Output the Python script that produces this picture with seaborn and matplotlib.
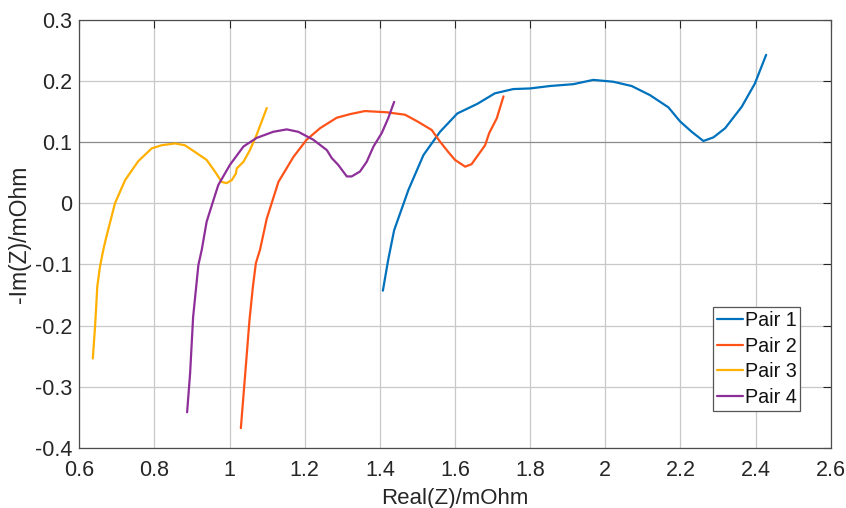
import numpy as np
import pandas as pd
import matplotlib
matplotlib.use("Agg")
import matplotlib.pyplot as plt
import seaborn as sns

# ---- data ----
p1_x = [1.408, 1.422, 1.438, 1.476, 1.516, 1.560, 1.606, 1.660, 1.706, 1.755, 1.800, 1.853,
        1.915, 1.968, 2.021, 2.070, 2.119, 2.168, 2.199, 2.230, 2.261, 2.288, 2.319, 2.363,
        2.398, 2.428]
p1_y = [-0.143, -0.093, -0.044, 0.022, 0.079, 0.117, 0.147, 0.163, 0.180, 0.187, 0.188, 0.192,
        0.195, 0.202, 0.199, 0.192, 0.177, 0.157, 0.134, 0.117, 0.102, 0.108, 0.123, 0.158,
        0.196, 0.243]

p2_x = [1.030, 1.041, 1.053, 1.062, 1.070, 1.081, 1.099, 1.130, 1.170, 1.205, 1.241, 1.285,
        1.321, 1.360, 1.418, 1.467, 1.500, 1.538, 1.560, 1.582, 1.600, 1.627, 1.644, 1.680,
        1.691, 1.711, 1.729]
p2_y = [-0.368, -0.284, -0.191, -0.137, -0.098, -0.076, -0.025, 0.035, 0.076, 0.104, 0.123, 0.140,
        0.146, 0.151, 0.149, 0.145, 0.134, 0.120, 0.101, 0.084, 0.071, 0.060, 0.064, 0.095,
        0.115, 0.139, 0.175]

p3_x = [0.636, 0.642, 0.648, 0.655, 0.664, 0.670, 0.695, 0.722, 0.757, 0.793, 0.819, 0.855,
        0.881, 0.908, 0.939, 0.961, 0.979, 0.992, 1.006, 1.017, 1.019, 1.037, 1.054, 1.072,
        1.099]
p3_y = [-0.254, -0.202, -0.136, -0.104, -0.076, -0.060, 0.000, 0.038, 0.069, 0.090, 0.095, 0.098,
        0.095, 0.084, 0.071, 0.052, 0.035, 0.033, 0.038, 0.049, 0.057, 0.068, 0.087, 0.112,
        0.156]

p4_x = [0.887, 0.895, 0.903, 0.917, 0.926, 0.939, 0.957, 0.970, 1.001, 1.037, 1.072, 1.116,
        1.152, 1.183, 1.223, 1.259, 1.272, 1.289, 1.312, 1.325, 1.347, 1.365, 1.383, 1.405,
        1.422, 1.438]
p4_y = [-0.342, -0.278, -0.186, -0.101, -0.076, -0.030, 0.005, 0.030, 0.063, 0.093, 0.107, 0.117,
        0.121, 0.117, 0.104, 0.087, 0.074, 0.063, 0.044, 0.044, 0.052, 0.068, 0.093, 0.115,
        0.139, 0.166]

series_names = ["Pair 1", "Pair 2", "Pair 3", "Pair 4"]
colors = ["#0072BD", "#FF5219", "#FFB000", "#8E2F99"]

xticks = [0.6, 0.8, 1.0, 1.2, 1.4, 1.6, 1.8, 2.0, 2.2, 2.4, 2.6]
xtick_labels = ["0.6", "0.8", "1", "1.2", "1.4", "1.6", "1.8", "2", "2.2", "2.4", "2.6"]
yticks = [-0.4, -0.3, -0.2, -0.1, 0.0, 0.1, 0.2, 0.3]
ytick_labels = ["-0.4", "-0.3", "-0.2", "-0.1", "0", "0.1", "0.2", "0.3"]

frames = []
for name, xs, ys in zip(series_names, [p1_x, p2_x, p3_x, p4_x], [p1_y, p2_y, p3_y, p4_y]):
    frames.append(pd.DataFrame({"x": xs, "y": ys, "series": name}))
df = pd.concat(frames, ignore_index=True)

sns.set_theme(style="white")
plt.rcParams["font.family"] = ["Liberation Sans", "DejaVu Sans"]

fig = plt.figure(figsize=(8.46, 5.08), dpi=100)
ax = fig.add_axes([0.0937, 0.1187, 0.8883, 0.8419])

sns.lineplot(data=df, x="x", y="y", hue="series", hue_order=series_names,
             palette=colors, sort=False, estimator=None, units="series",
             linewidth=1.6, ax=ax)

ax.set_xlim(0.6, 2.6)
ax.set_ylim(-0.4, 0.3)
ax.set_xticks(xticks)
ax.set_xticklabels(xtick_labels)
ax.set_yticks(yticks)
ax.set_yticklabels(ytick_labels)
ax.grid(True, color="#c8c8c8", linewidth=0.9)
ax.set_axisbelow(True)
# the 0.1 gridline appears darker in the reference
ax.get_ygridlines()[5].set_color("#8a8a8a")

for s in ax.spines.values():
    s.set_visible(True)
    s.set_color("#4d4d4d")
    s.set_linewidth(0.9)

ax.tick_params(axis="both", which="both", direction="in", length=6, width=0.8,
               colors="#262626", labelsize=15.5, top=True, right=True)
ax.tick_params(axis="x", pad=9)
ax.tick_params(axis="y", pad=5)

ax.set_xlabel("Real(Z)/mOhm", fontsize=16, color="#262626", labelpad=5)
ax.set_ylabel("-Im(Z)/mOhm", fontsize=16.5, color="#262626", labelpad=2.5)

leg = ax.legend(loc="upper left", bbox_to_anchor=(0.843, 0.328), fontsize=14.2,
                frameon=True, fancybox=False, handlelength=1.35, handletextpad=0.06,
                borderpad=0.2, labelspacing=0.33, borderaxespad=0.0)
leg.get_frame().set_edgecolor("#555555")
leg.get_frame().set_linewidth(0.9)
leg.get_frame().set_alpha(1.0)
for t in leg.get_texts():
    t.set_color("#111111")

fig.savefig("out.png", dpi=100)
